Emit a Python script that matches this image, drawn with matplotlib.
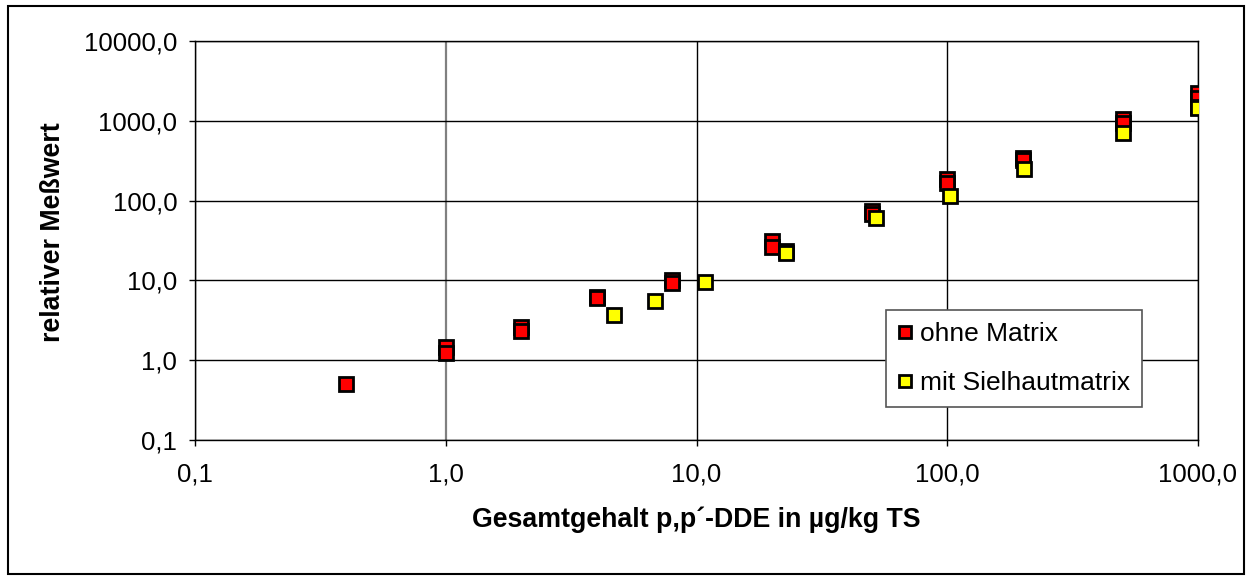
import matplotlib
matplotlib.use("Agg")
import matplotlib.pyplot as plt
from matplotlib.patches import Rectangle
from matplotlib.ticker import FixedLocator, FuncFormatter, NullLocator

# ohne Matrix (red)
x_ohne = [0.4, 1, 1, 2, 2, 4, 4, 8, 8, 20, 20, 50, 50, 100, 100, 200, 200, 500, 500, 1000, 1000]
y_ohne = [0.5, 1.45, 1.22, 2.6, 2.3, 6.2, 6.1, 10.2, 9.2, 31, 26, 74, 68, 185, 165, 340, 320,
          1040, 950, 2200, 1950]

# mit Sielhautmatrix (yellow)
x_mit = [4.7, 6.8, 10.8, 22.8, 22.8, 52, 103, 203, 500, 1000, 1000]
y_mit = [3.7, 5.5, 9.6, 23.5, 22, 60, 114, 247, 700, 1500, 1450]

x_ticks = [0.1, 1, 10, 100, 1000]
y_ticks = [0.1, 1, 10, 100, 1000, 10000]


def comma_fmt(v, pos=None):
    return f"{v:.1f}".replace(".", ",")


def main() -> None:
    plt.rcParams["font.family"] = ["Liberation Sans", "DejaVu Sans"]

    fig = plt.figure(figsize=(12.52, 5.8), dpi=100)
    ax = fig.add_axes([195 / 1252, 1 - 440 / 580, 1003 / 1252, 399 / 580])

    ax.set_xscale("log")
    ax.set_yscale("log")
    ax.set_xlim(0.1, 1000)
    ax.set_ylim(0.1, 10000)

    ax.xaxis.set_major_locator(FixedLocator(x_ticks))
    ax.yaxis.set_major_locator(FixedLocator(y_ticks))
    ax.xaxis.set_minor_locator(NullLocator())
    ax.yaxis.set_minor_locator(NullLocator())
    ax.xaxis.set_major_formatter(FuncFormatter(comma_fmt))
    ax.yaxis.set_major_formatter(FuncFormatter(comma_fmt))

    ax.grid(True, color="black", linewidth=1.0)
    ax.set_axisbelow(True)
    ax.tick_params(direction="out", length=4.3, width=1, labelsize=18.5)
    ax.tick_params(axis="x", pad=12)
    ax.tick_params(axis="y", pad=8.5)
    for s in ax.spines.values():
        s.set_linewidth(1.0)
        s.set_color("black")
    # the 1,0 gridline is drawn grey in the original
    ax.xaxis.get_major_ticks()[1].gridline.set_color("#808080")
    ax.xaxis.get_major_ticks()[1].gridline.set_linewidth(1.6)

    ax.plot(x_ohne, y_ohne, linestyle="none", marker="s", markersize=10.5,
            markerfacecolor="#FF0000", markeredgecolor="black", markeredgewidth=2,
            label="ohne Matrix", zorder=3)
    ax.plot(x_mit, y_mit, linestyle="none", marker="s", markersize=10.5,
            markerfacecolor="#FFFF00", markeredgecolor="black", markeredgewidth=2,
            label="mit Sielhautmatrix", zorder=4)

    ax.set_xlabel("Gesamtgehalt p,p´-DDE in µg/kg TS", fontsize=19.3, fontweight="bold",
                  labelpad=14)
    ax.set_ylabel("relativer Meßwert", fontsize=19.3, fontweight="bold")
    ax.yaxis.set_label_coords(-0.1286, 0.521)

    leg = ax.legend(loc="upper left", bbox_to_anchor=(0.689, 0.326), borderaxespad=0,
                    fontsize=19, frameon=True, fancybox=False, framealpha=1,
                    edgecolor="#555555", handlelength=0.55, handletextpad=0.3,
                    labelspacing=0.95, borderpad=0.45, markerscale=0.85)
    leg.get_frame().set_linewidth(1.2)
    leg.set_zorder(5)

    fig.patches.append(Rectangle((8 / 1252, 6 / 580), 1236 / 1252, 568 / 580,
                                 transform=fig.transFigure, fill=False,
                                 edgecolor="black", linewidth=1.5))

    fig.savefig("out.png", dpi=100)
    plt.close(fig)


if __name__ == "__main__":
    main()
